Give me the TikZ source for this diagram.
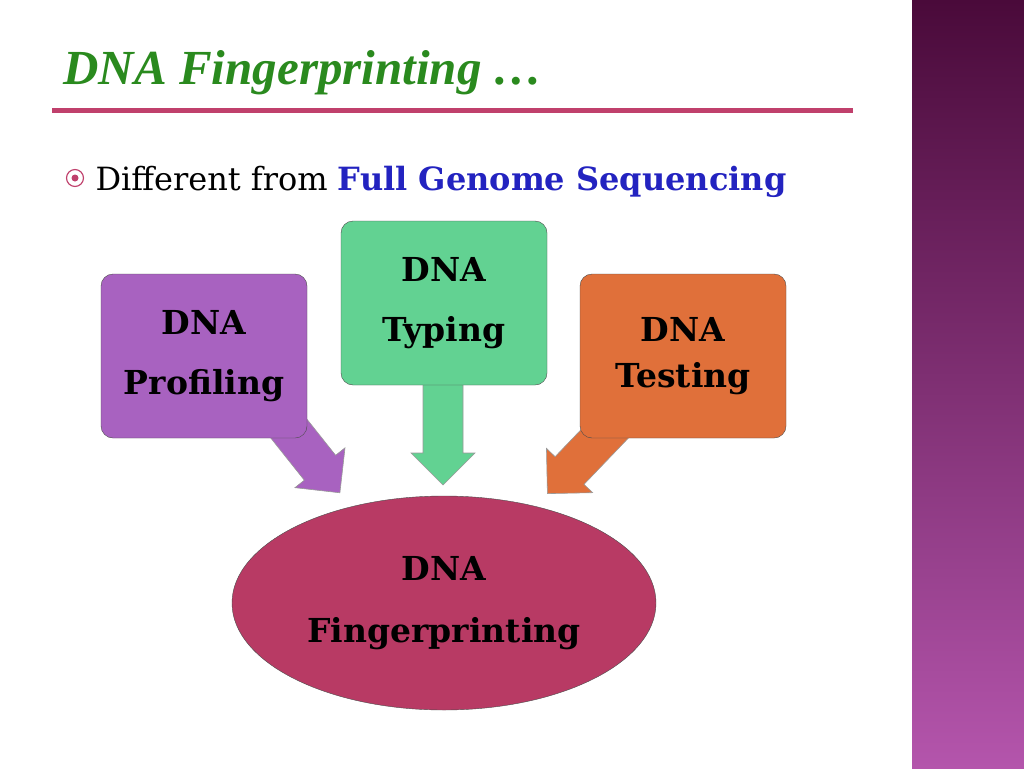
\documentclass[tikz,border=0pt]{standalone}
\usepackage{fontspec}
\setmainfont{Liberation Serif}
\newfontfamily\bodyfont{DejaVu Serif}
\usepackage{tikz}
\usetikzlibrary{shapes.geometric}

\definecolor{titlegreen}{HTML}{2A8A1E}
\definecolor{rulerose}{HTML}{C0406C}
\definecolor{barTop}{HTML}{4A0A3A}
\definecolor{barBot}{HTML}{B455AC}
\definecolor{profpurple}{HTML}{A862C0}
\definecolor{typegreen}{HTML}{62D292}
\definecolor{testorange}{HTML}{E0703A}
\definecolor{fingerrose}{HTML}{B83A64}
\definecolor{seqblue}{HTML}{2323C0}

\tikzset{
  box/.style = {draw=black!70, rounded corners=12pt, minimum width=206pt,
                minimum height=164pt, align=center, font=\bodyfont\fontsize{33}{60}\selectfont\bfseries},
  barrow/.style = {draw=black!40, line width=.6pt}
}
% block arrow: start, angle, length, colour
\newcommand{\blockarr}[4]{
  \begin{scope}[shift={#1}, rotate=#2]
    \fill[#4, barrow] (0,-20) -- ({#3-32},-20) -- ({#3-32},-32) -- (#3,0)
      -- ({#3-32},32) -- ({#3-32},20) -- (0,20) -- cycle;
  \end{scope}}

\begin{document}
\begin{tikzpicture}[x=1pt, y=-1pt]
        \useasboundingbox (0,0) rectangle (1024,768);
        \fill[white] (0,0) rectangle (1024,768);
        \shade[top color=barTop, bottom color=barBot] (912,0) rectangle (1024,768);

        \node[anchor=base west, text=titlegreen, font=\fontsize{49}{52}\selectfont\bfseries\itshape] (title) at (60,84) {DNA Fingerprinting \dots};
        \draw[rulerose, line width=5pt] (52,110) -- (853,110);

        \node[circle, draw=rulerose, line width=1.2pt, inner sep=6pt] (bul) at (75,178) {};
        \fill[rulerose] (bul) circle (3.5pt);
        \node[anchor=base west, font=\bodyfont\fontsize{32}{36}\selectfont] (diff) at (92,190)
          {Different from \textcolor{seqblue}{\bfseries Full Genome Sequencing}};

        % arrows behind the boxes
        \blockarr{(282,420)}{-51.5}{93}{profpurple}
        \blockarr{(443,375)}{-90}{110}{typegreen}
        \blockarr{(618,420)}{-133.8}{102}{testorange}

        \node[box, fill=profpurple] (prof) at (204,356) {DNA\\Profiling};
        \node[box, fill=typegreen] (typ) at (444,303) {DNA\\Typing};
        \node[box, fill=testorange, font=\bodyfont\fontsize{33}{46}\selectfont\bfseries] (test) at (683,356) {DNA\\Testing};

        \node[ellipse, draw=black!70, fill=fingerrose, minimum width=424pt, minimum height=214pt,
              align=center, font=\bodyfont\fontsize{33}{62}\selectfont\bfseries] (finger) at (444,603) {DNA\\Fingerprinting};
\end{tikzpicture}
\end{document}
